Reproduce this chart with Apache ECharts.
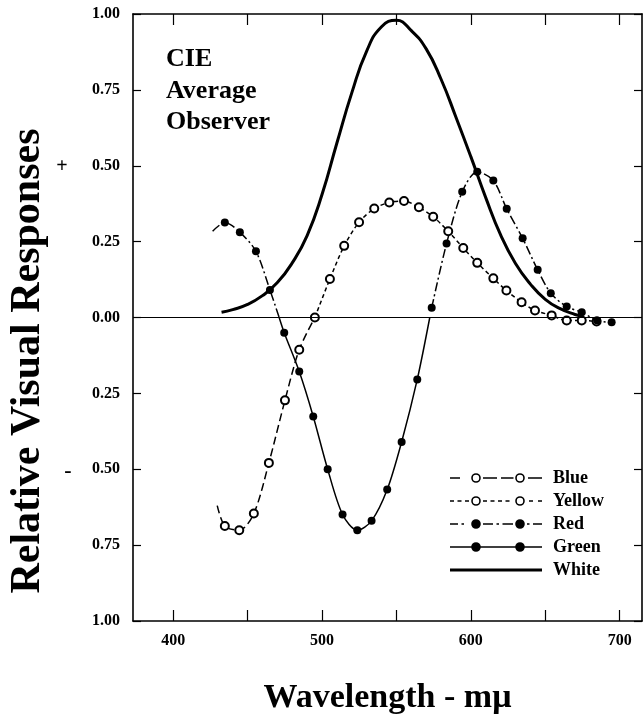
<!DOCTYPE html>
<html>
<head>
<meta charset="utf-8">
<script src="https://cdn.jsdelivr.net/npm/echarts@6/dist/echarts.min.js"></script>
<style>
html,body{margin:0;padding:0;background:#fff;}
#c{width:644px;height:717px;}
</style>
</head>
<body>
<div id="c"></div>
<script>
// ---- data (wavelength in mμ, relative response) ----
const xTickValues = [400, 450, 500, 550, 600, 650, 700];
const xLabelValues = [400, 500, 600, 700];
const legendNames = ['Blue', 'Yellow', 'Red', 'Green', 'White'];

// Blue (negative part of yellow-blue curve)
const bluePoints = [[434.7,-0.687],[444.4,-0.701],[454.2,-0.646],[464.3,-0.479],[475.1,-0.273],[484.7,-0.106],[495.2,0.0]];
const blueEnds = [[429.6,-0.62]];

// Yellow (positive part)
const yellowPoints = [[505.3,0.127],[514.9,0.236],[524.9,0.314],[535.1,0.359],[545.2,0.379],[555.1,0.384],[565.1,0.363],[574.7,0.332],[584.8,0.284],[594.9,0.229],[604.3,0.180],[615.1,0.129],[623.9,0.089],[634.1,0.050],[643.1,0.023],[654.3,0.007],[664.4,-0.010],[674.5,-0.010],[684.5,-0.013]];
const yellowEnds = [[495.2,0.0]];

// Red (two positive lobes of red-green curve)
const redPoints1 = [[434.7,0.313],[444.8,0.281],[455.6,0.218],[465.0,0.091]];
const redEnds1 = [[426.5,0.284],[471.2,0.0]];
const redPoints2 = [[573.7,0.032],[583.7,0.244],[594.2,0.414],[604.3,0.480],[615.1,0.451],[624.1,0.358],[634.8,0.261],[644.9,0.157],[653.7,0.080],[664.4,0.036],[674.5,0.017],[684.9,-0.010],[694.6,-0.016]];

// Green (negative lobe)
const greenPoints = [[474.6,-0.050],[484.7,-0.178],[494.1,-0.326],[503.8,-0.500],[513.8,-0.649],[523.7,-0.701],[533.3,-0.670],[543.8,-0.567],[553.5,-0.410],[564.0,-0.204]];
const greenEnds = [[471.2,0.0],[572.4,0.0]];

// White (luminosity curve)
const whiteLine = [[432.5,0.017],[440,0.026],[450,0.043],[460,0.072],[470,0.115],[480,0.180],[490,0.270],[500,0.405],[510,0.575],[520,0.740],[530,0.878],[540,0.958],[550,0.979],[560,0.945],[570,0.885],[580,0.785],[590,0.660],[600,0.530],[610,0.395],[620,0.272],[630,0.178],[640,0.110],[650,0.060],[660,0.029],[670,0.010],[675,0.004]];

// ---- helpers ----
function build(points, ends) {
  const items = points.map(p => ({value: p}))
    .concat((ends || []).map(p => ({value: p, symbol: 'none'})));
  items.sort((a, b) => a.value[0] - b.value[0]);
  return items;
}
const F = '"Liberation Serif","Times New Roman",serif';
const redData = build(redPoints1, redEnds1).concat([{value: [520, '-']}]).concat(build(redPoints2, []));

// legend icon paths (92 x 14 box): dashes as thin rects, markers as circles/rings
function rect(x0, x1, h) { const y0 = 7 - h / 2, y1 = 7 + h / 2; return `M${x0},${y0}L${x1},${y0}L${x1},${y1}L${x0},${y1}Z`; }
function disc(cx, r) { return `M${cx - r},7A${r},${r},0,1,1,${cx + r},7A${r},${r},0,1,1,${cx - r},7Z`; }
function discRev(cx, r) { return `M${cx - r},7A${r},${r},0,1,0,${cx + r},7A${r},${r},0,1,0,${cx - r},7Z`; }
function ring(cx) { return disc(cx, 4.8) + discRev(cx, 3.2); }
function dashes(list, h) { return list.map(d => rect(d[0], d[1], h || 1.5)).join(''); }
const legendIcons = {
  Blue: 'path://' + dashes([[0, 10], [33, 47], [51, 63.5], [78, 92]]) + ring(26) + ring(70),
  Yellow: 'path://' + dashes([[0, 4], [7.5, 11.5], [15, 19], [33, 37], [40.5, 44.5], [48, 52], [55.5, 59.5], [79, 83], [88, 92]]) + ring(26) + ring(70),
  Red: 'path://' + dashes([[0, 8], [11.5, 14], [33, 43], [46.5, 49], [52.5, 63], [77, 79.5], [83, 92]]) + disc(26, 4.8) + disc(70, 4.8),
  Green: 'path://' + dashes([[0, 92]]) + disc(26, 4.8) + disc(70, 4.8),
  White: 'path://' + dashes([[0, 92]], 3)
};

const chart = echarts.init(document.getElementById('c'), null, {renderer: 'canvas'});
const axisLine = {onZero: false, lineStyle: {color: '#000', width: 1.6}};
const option = {
  animation: false,
  backgroundColor: '#fff',
  title: {
    text: 'CIE\nAverage\nObserver', left: 166, top: 44, padding: 0,
    textStyle: {fontFamily: F, fontWeight: 'bold', fontSize: 26, lineHeight: 31.5, color: '#000'}
  },
  legend: {
    orient: 'vertical', left: 450, top: 469, padding: 0, itemWidth: 92, itemHeight: 14, itemGap: 5,
    symbolKeepAspect: true,
    itemStyle: {color: '#000', borderWidth: 0},
    data: legendNames.map(n => ({name: n, icon: legendIcons[n]})),
    textStyle: {fontFamily: F, fontWeight: 'bold', fontSize: 18, lineHeight: 18, color: '#000', padding: [0, 0, 0, 6]}
  },
  grid: {left: 133, right: 2, top: 14, bottom: 96, containLabel: false, outerBoundsMode: 'none'},
  xAxis: [{
    type: 'value', min: 373, max: 715, position: 'bottom',
    axisLine: axisLine,
    axisTick: {inside: true, length: 11, customValues: xTickValues, lineStyle: {color: '#000', width: 1.2}},
    axisLabel: {customValues: xLabelValues, margin: 12, fontFamily: F, fontWeight: 'bold', fontSize: 16, color: '#000'},
    splitLine: {show: false},
    name: 'Wavelength - m\u03bc', nameLocation: 'middle', nameGap: 60,
    nameTextStyle: {fontFamily: F, fontWeight: 'bold', fontSize: 34, color: '#000'}
  }, {
    type: 'value', min: 373, max: 715, position: 'top',
    axisLine: axisLine,
    axisTick: {inside: true, length: 11, customValues: xTickValues, lineStyle: {color: '#000', width: 1.2}},
    axisLabel: {show: false}, splitLine: {show: false}
  }],
  yAxis: [{
    type: 'value', min: -1, max: 1, interval: 0.25, position: 'left',
    axisLine: axisLine,
    axisTick: {inside: true, length: 8, lineStyle: {color: '#000', width: 1.2}},
    axisLabel: {margin: 13, fontFamily: F, fontWeight: 'bold', fontSize: 16, color: '#000',
      formatter: v => Math.abs(v).toFixed(2)},
    splitLine: {show: false}
  }, {
    type: 'value', min: -1, max: 1, interval: 0.25, position: 'right',
    axisLine: axisLine,
    axisTick: {inside: true, length: 8, lineStyle: {color: '#000', width: 1.2}},
    axisLabel: {show: false}, splitLine: {show: false}
  }],
  graphic: [
    {type: 'text', x: 28, y: 361, rotation: Math.PI / 2,
      style: {text: 'Relative Visual Responses', fontFamily: F, fontWeight: 'bold', fontSize: 42, fill: '#000', align: 'center', verticalAlign: 'middle'}},
    {type: 'text', x: 62, y: 167,
      style: {text: '+', fontFamily: F, fontWeight: 'bold', fontSize: 20, fill: '#000', align: 'center', verticalAlign: 'middle'}},
    {type: 'text', x: 68, y: 471,
      style: {text: '-', fontFamily: F, fontWeight: 'bold', fontSize: 22, fill: '#000', align: 'center', verticalAlign: 'middle'}}
  ],
  series: [
    {name: 'Blue', type: 'line', smooth: 0.3, data: build(bluePoints, blueEnds),
      symbol: 'emptyCircle', symbolSize: 8, color: '#000',
      lineStyle: {color: '#000', width: 1.5, type: [8, 4]},
      itemStyle: {color: '#000', borderWidth: 1.5}},
    {name: 'Yellow', type: 'line', smooth: 0.3, data: build(yellowPoints, yellowEnds),
      symbol: 'emptyCircle', symbolSize: 8, color: '#000',
      lineStyle: {color: '#000', width: 1.5, type: [4, 3]},
      itemStyle: {color: '#000', borderWidth: 1.5}},
    {name: 'Red', type: 'line', smooth: 0.3, data: redData,
      symbol: 'circle', symbolSize: 8, color: '#000',
      lineStyle: {color: '#000', width: 1.5, type: [9, 3, 2, 3]},
      itemStyle: {color: '#000'}},
    {name: 'Green', type: 'line', smooth: 0.3, data: build(greenPoints, greenEnds),
      symbol: 'circle', symbolSize: 8, color: '#000',
      lineStyle: {color: '#000', width: 1.5, type: 'solid'},
      itemStyle: {color: '#000'}},
    {name: 'White', type: 'line', smooth: 0.5, data: whiteLine, showSymbol: false, symbol: 'none', color: '#000',
      lineStyle: {color: '#000', width: 3, type: 'solid'},
      markLine: {silent: true, symbol: ['none', 'none'], label: {show: false},
        lineStyle: {color: '#000', width: 1.2, type: 'solid'}, data: [{yAxis: 0}]}}
  ]
};
chart.setOption(option);
</script>
</body>
</html>
